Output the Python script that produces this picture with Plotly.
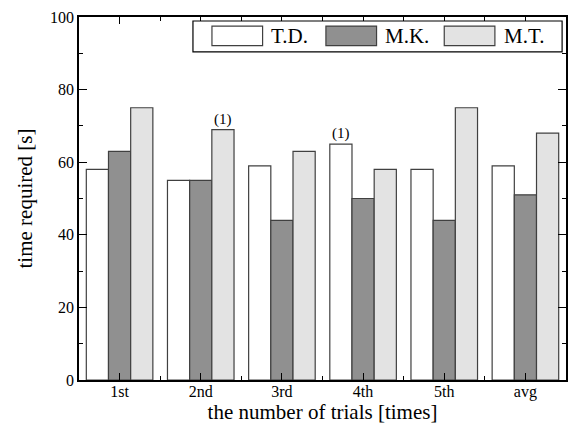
import plotly.graph_objects as go

categories = ["1st", "2nd", "3rd", "4th", "5th", "avg"]
series_names = ["T.D.", "M.K.", "M.T."]
td = [58, 55, 59, 65, 58, 59]
mk = [63, 55, 44, 50, 44, 51]
mt = [75, 69, 63, 58, 75, 68]
colors = ["#ffffff", "#909090", "#e3e3e3"]
notes = [("M.T.", 1, "(1)"), ("T.D.", 3, "(1)")]

x = list(range(len(categories)))
bargap = 0.18
font = "Liberation Serif, Times New Roman, serif"
edge = "#404040"

fig = go.Figure()
for name, vals, c in zip(series_names, [td, mk, mt], colors):
    fig.add_trace(go.Bar(x=x, y=vals, name=name, showlegend=False,
                         marker=dict(color=c, line=dict(color=edge, width=1.2))))

bw = (1 - bargap) / 3
offsets = {n: (i - 1) * bw for i, n in enumerate(series_names)}
data = dict(zip(series_names, [td, mk, mt]))
for s, idx, txt in notes:
    fig.add_annotation(x=idx + offsets[s], y=data[s][idx], text=txt, showarrow=False,
                       yanchor="bottom", yshift=0, font=dict(family=font, size=15, color="black"))

# legend drawn as a boxed row (paper coordinates)
fig.add_shape(type="rect", xref="paper", yref="paper", x0=0.234, x1=0.992, y0=0.904, y1=0.989,
              line=dict(color="black", width=1.2), fillcolor="white", layer="above")
sym_x = [0.273, 0.507, 0.750]
for sx, name, c in zip(sym_x, series_names, colors):
    fig.add_shape(type="rect", xref="paper", yref="paper", x0=sx, x1=sx + 0.104, y0=0.921, y1=0.975,
                  line=dict(color=edge, width=1.2), fillcolor=c, layer="above")
    fig.add_annotation(xref="paper", yref="paper", x=sx + 0.118, y=0.948, text=name, showarrow=False,
                       xanchor="left", yanchor="middle", font=dict(family=font, size=21, color="black"))

fig.update_layout(
    width=578, height=432,
    margin=dict(l=79, r=12, t=17, b=52),
    paper_bgcolor="white", plot_bgcolor="white",
    barmode="group", bargap=bargap, bargroupgap=0,
    font=dict(family=font, color="black", size=16),
    showlegend=False,
)
fig.update_xaxes(
    range=[-0.5, 5.5], tickmode="array", tickvals=x, ticktext=categories, automargin=False,
    showline=True, linecolor="black", linewidth=1.5, mirror="allticks",
    ticks="inside", ticklen=7, tickcolor="black", tickwidth=1.2, ticklabelstandoff=-4,
    minor=dict(tickmode="array", tickvals=[i + 0.5 for i in x[:-1]], ticks="inside", ticklen=4, tickcolor="black"),
    title=dict(text="the number of trials [times]", font=dict(size=21), standoff=2),
    showgrid=False, zeroline=False, tickfont=dict(size=16),
)
fig.update_yaxes(
    range=[0, 100], dtick=20, automargin=False,
    showline=True, linecolor="black", linewidth=1.5, mirror="allticks",
    ticks="inside", ticklen=8, tickcolor="black", tickwidth=1.2,
    minor=dict(dtick=10, ticks="inside", ticklen=4, tickcolor="black"),
    title=dict(text="time required [s]", font=dict(size=21), standoff=12),
    showgrid=False, zeroline=False, tickfont=dict(size=16),
)
fig.write_html("out.html", config={"displayModeBar": False},
               post_script="document.body.style.margin='0';document.body.style.overflow='hidden';")
